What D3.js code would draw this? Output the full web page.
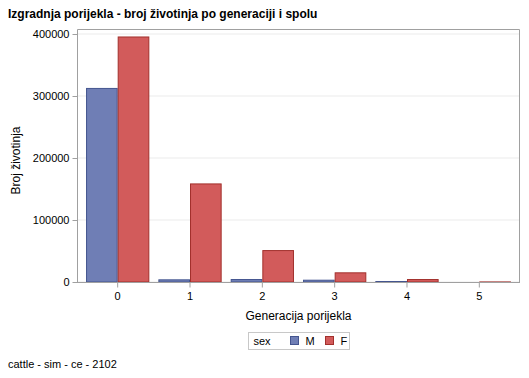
<!DOCTYPE html>
<html>
<head>
<meta charset="utf-8">
<script src="https://cdn.jsdelivr.net/npm/d3@7"></script>
<style>
  body { margin: 0; background: #fff; }
  text { font-family: "Liberation Sans", Arial, sans-serif; fill: #000; }
</style>
</head>
<body>
<svg id="chart"></svg>
<script>
// Data
const generations = ['0', '1', '2', '3', '4', '5'];
const sexes = ['M', 'F'];
const maleCounts = [313000, 4300, 4800, 3700, 1600, 700];
const femaleCounts = [396000, 159000, 51500, 15600, 4800, 900];
const yTicks = [0, 100000, 200000, 300000, 400000];

const colors = {
  M: {fill: '#6f7eb5', stroke: '#44558f'},
  F: {fill: '#d25b5b', stroke: '#a2302c'}
};

const width = 529, height = 378;
const margin = {top: 29, right: 9, bottom: 96, left: 77};
const innerW = width - margin.left - margin.right;
const innerH = height - margin.top - margin.bottom;

const rows = generations.map((g, i) => ({gen: g, M: maleCounts[i], F: femaleCounts[i]}));

const svg = d3.select('#chart')
  .attr('width', width)
  .attr('height', height);

// Title
svg.append('text')
  .attr('x', 8).attr('y', 18)
  .attr('font-size', 12).attr('font-weight', 'bold')
  .text('Izgradnja porijekla - broj životinja po generaciji i spolu');

const g = svg.append('g')
  .attr('transform', `translate(${margin.left},${margin.top})`);

const x = d3.scaleBand()
  .domain(generations)
  .range([0, innerW])
  .paddingInner(0.125)
  .paddingOuter(0.125);

const xSub = d3.scaleBand()
  .domain(sexes)
  .range([0, x.bandwidth()]);

const y = d3.scaleLinear()
  .domain([0, 400000])
  .range([innerH, 5]);

// grid lines
g.append('g')
  .selectAll('line')
  .data(yTicks)
  .join('line')
  .attr('x1', 0).attr('x2', innerW)
  .attr('y1', d => y(d)).attr('y2', d => y(d))
  .attr('stroke', '#ebebeb');

// bars
const groups = g.append('g')
  .selectAll('g')
  .data(rows)
  .join('g')
  .attr('transform', d => `translate(${x(d.gen)},0)`);

groups.selectAll('rect')
  .data(d => sexes.map(s => ({sex: s, value: d[s]})))
  .join('rect')
  .attr('x', d => xSub(d.sex) + 0.5)
  .attr('width', xSub.bandwidth() - 1)
  .attr('y', d => y(d.value) + 0.5)
  .attr('height', d => Math.max(0, innerH - y(d.value) - 0.5))
  .attr('fill', d => colors[d.sex].fill)
  .attr('stroke', d => colors[d.sex].stroke)
  .attr('stroke-width', 1);

// frame (left, top, right)
g.append('path')
  .attr('d', `M0.5,${innerH}V0.5H${innerW - 0.5}V${innerH}`)
  .attr('fill', 'none')
  .attr('stroke', '#a0a0a0');

// axes
const yAxis = d3.axisLeft(y)
  .tickValues(yTicks)
  .tickSize(5)
  .tickPadding(3)
  .tickFormat(d3.format('d'));

const yAxisG = g.append('g')
  .attr('transform', 'translate(0.5,0)')
  .call(yAxis);
yAxisG.select('.domain').remove();
yAxisG.selectAll('line').attr('stroke', '#a0a0a0');
yAxisG.selectAll('text').attr('font-size', 11)
  .attr('font-family', '"Liberation Sans", Arial, sans-serif').attr('fill', '#000');

const xAxis = d3.axisBottom(x)
  .tickSize(5)
  .tickPadding(5);

const xAxisG = g.append('g')
  .attr('transform', `translate(0,${innerH + 0.5})`)
  .call(xAxis);
xAxisG.select('.domain')
  .attr('d', `M0,0H${innerW}`)
  .attr('stroke', '#a0a0a0');
xAxisG.selectAll('line').attr('stroke', '#a0a0a0');
xAxisG.selectAll('text').attr('font-size', 11)
  .attr('font-family', '"Liberation Sans", Arial, sans-serif').attr('fill', '#000');

// axis titles
svg.append('text')
  .attr('transform', `translate(20,${margin.top + innerH / 2 + 5}) rotate(-90)`)
  .attr('text-anchor', 'middle')
  .attr('font-size', 12)
  .text('Broj životinja');

svg.append('text')
  .attr('x', margin.left + innerW / 2)
  .attr('y', 320)
  .attr('text-anchor', 'middle')
  .attr('font-size', 12)
  .text('Generacija porijekla');

// legend
const legend = svg.append('g').attr('transform', 'translate(248.5,332.5)');
legend.append('rect')
  .attr('width', 101).attr('height', 17)
  .attr('fill', '#fff').attr('stroke', '#c8c8c8');
legend.append('text')
  .attr('x', 5).attr('y', 12.5)
  .attr('font-size', 11)
  .text('sex');
const legendItems = legend.selectAll('g.item')
  .data(sexes)
  .join('g')
  .attr('class', 'item')
  .attr('transform', (d, i) => `translate(${42 + i * 35},4)`);
legendItems.append('rect')
  .attr('width', 8).attr('height', 8)
  .attr('fill', d => colors[d].fill)
  .attr('stroke', d => colors[d].stroke);
legendItems.append('text')
  .attr('x', 15).attr('y', 8.5)
  .attr('font-size', 11)
  .text(d => d);

// footnote
svg.append('text')
  .attr('x', 8).attr('y', 368)
  .attr('font-size', 11)
  .text('cattle - sim - ce - 2102');
</script>
</body>
</html>
